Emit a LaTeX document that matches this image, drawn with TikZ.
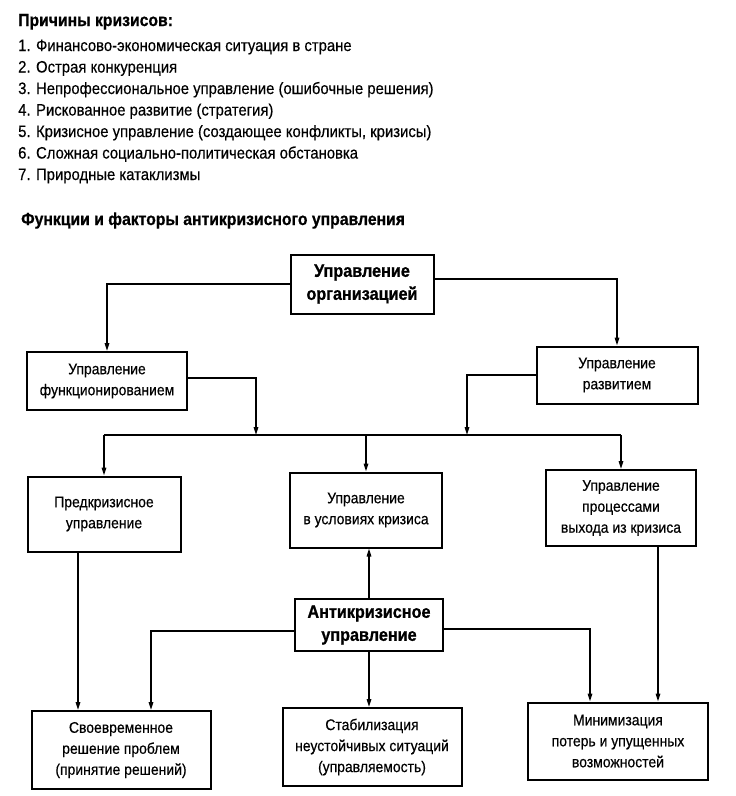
\documentclass[tikz,border=0pt]{standalone}
\usepackage{fontspec}
\setmainfont{Liberation Sans}[FakeStretch=0.9,
    UprightFeatures={FakeBold=0.4}, BoldFeatures={FakeBold=0.8}]
\usetikzlibrary{arrows.meta,positioning,calc}
\tikzset{
    block/.style = {draw, rectangle, line width=2pt, align=center,
        inner sep=2pt, font=\fontsize{15.5}{21}\selectfont},
    mainblock/.style = {block, font=\fontsize{18}{23}\selectfont\bfseries},
    conn/.style = {line width=1.5pt},
    heading/.style = {anchor=base west, inner sep=0pt, font=\fontsize{17.5}{20}\selectfont\bfseries},
    item/.style = {anchor=base west, inner sep=0pt, font=\fontsize{16.5}{20}\selectfont},
}

\begin{document}
\begin{tikzpicture}[x=1pt, y=-1pt, >={Triangle[length=8pt,width=4.5pt]}]
		\useasboundingbox (0,0) rectangle (736,796);
		% causes list
		\node [heading] (causesTitle) at (18,26) {Причины кризисов:};
		\node [item] (cause1) at (18,51) {1. Финансово-экономическая ситуация в стране};
		\node [item] (cause2) at (18,72.5) {2. Острая конкуренция};
		\node [item] (cause3) at (18,94) {3. Непрофессиональное управление (ошибочные решения)};
		\node [item] (cause4) at (18,115.5) {4. Рискованное развитие (стратегия)};
		\node [item] (cause5) at (18,137) {5. Кризисное управление (создающее конфликты, кризисы)};
		\node [item] (cause6) at (18,158.5) {6. Сложная социально-политическая обстановка};
		\node [item] (cause7) at (18,180) {7. Природные катаклизмы};
		\node [heading] (functionsTitle) at (21,225) {Функции и факторы антикризисного управления};

		% upper level
		\node [mainblock, minimum width=143pt, minimum height=59pt] (orgMgmt) at (362,284) {Управление\\организацией};
		\node [block, minimum width=160pt, minimum height=58pt] (funcMgmt) at (107,381) {Управление\\функционированием};
		\node [block, minimum width=161pt, minimum height=57pt] (devMgmt) at (617,375) {Управление\\развитием};

		% middle level
		\node [block, minimum width=153pt, minimum height=75pt] (preCrisis) at (104,514) {Предкризисное\\управление};
		\node [block, minimum width=152pt, minimum height=75pt] (inCrisis) at (366,510) {Управление\\в условиях кризиса};
		\node [block, minimum width=150pt, minimum height=76pt] (exitCrisis) at (621,508) {Управление\\процессами\\выхода из кризиса};

		\node [mainblock, minimum width=148pt, minimum height=52pt] (antiCrisis) at (369,625) {Антикризисное\\управление};

		% lower level
		\node [block, minimum width=179pt, minimum height=78pt] (timely) at (121,750) {Своевременное\\решение проблем\\(принятие решений)};
		\node [block, minimum width=179pt, minimum height=78pt] (stabil) at (372,747) {Стабилизация\\неустойчивых ситуаций\\(управляемость)};
		\node [block, minimum width=180pt, minimum height=77pt] (minim) at (618,741) {Минимизация\\потерь и упущенных\\возможностей};

		\coordinate (funcJoin) at (256,435);
		\coordinate (devJoin) at (467,435);

		%% connecting lines
		\draw [conn,->] (orgMgmt.west) -| (funcMgmt.north);
		\draw [conn,->] ([yshift=5pt]orgMgmt.east) -| (devMgmt.north);
		\draw [conn,->] ([yshift=3pt]funcMgmt.east) -| (funcJoin);
		\draw [conn,->] (devMgmt.west) -| (devJoin);

		\draw [conn] (preCrisis.north |- funcJoin) -- (exitCrisis.north |- funcJoin);
		\draw [conn,->] (preCrisis.north |- funcJoin) -- (preCrisis.north);
		\draw [conn,->] (inCrisis.north |- funcJoin) -- (inCrisis.north);
		\draw [conn,->] (exitCrisis.north |- funcJoin) -- (exitCrisis.north);

		\draw [conn,->] (antiCrisis.north) -- (antiCrisis.north |- inCrisis.south);
		\draw [conn,->] ([xshift=-26pt]preCrisis.south) -- ([xshift=-26pt]preCrisis.south |- timely.north);
		\draw [conn,->] ([yshift=-6pt]antiCrisis.west) -| ([xshift=30pt]timely.north);
		\draw [conn,->] (antiCrisis.south) -- (antiCrisis.south |- stabil.north);
		\draw [conn,->] ([yshift=-4pt]antiCrisis.east) -| ([xshift=-28pt]minim.north);
		\draw [conn,->] ([xshift=37pt]exitCrisis.south) -- ([xshift=37pt]exitCrisis.south |- minim.north);
	\end{tikzpicture}
\end{document}
